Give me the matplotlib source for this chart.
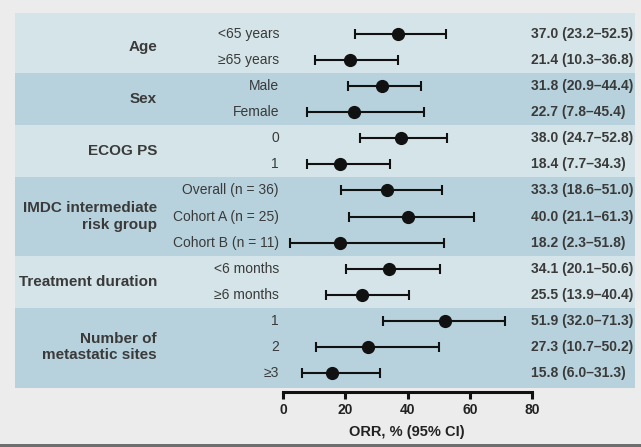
import matplotlib.pyplot as plt
from matplotlib.patches import Rectangle
import matplotlib.transforms as mtransforms

plt.rcParams["font.family"] = ["Liberation Sans", "DejaVu Sans"]

# Data.
groups = ["Age", "Sex", "ECOG PS", "IMDC intermediate\nrisk group",
          "Treatment duration", "Number of\nmetastatic sites"]
groupSizes = [2, 2, 2, 3, 2, 3]
rowLabels = ["<65 years", "≥65 years", "Male", "Female", "0", "1",
             "Overall (n = 36)", "Cohort A (n = 25)", "Cohort B (n = 11)",
             "<6 months", "≥6 months", "1", "2", "≥3"]
orr = [37.0, 21.4, 31.8, 22.7, 38.0, 18.4, 33.3, 40.0, 18.2, 34.1, 25.5, 51.9, 27.3, 15.8]
ciLow = [23.2, 10.3, 20.9, 7.8, 24.7, 7.7, 18.6, 21.1, 2.3, 20.1, 13.9, 32.0, 10.7, 6.0]
ciHigh = [52.5, 36.8, 44.4, 45.4, 52.8, 34.3, 51.0, 61.3, 51.8, 50.6, 40.4, 71.3, 50.2, 31.3]
xTicks = [0, 20, 40, 60, 80]

textColor = "#3a3a3a"
lightBand = "#d5e4e8"
darkBand = "#b7d2dc"

W, H = 641, 447
fig = plt.figure(figsize=(W / 100, H / 100), dpi=100)
fig.patch.set_facecolor("#ececec")
# Dark strip along the bottom edge of the slide.
fig.patches.append(Rectangle((0, 0), 1, 3 / H, transform=fig.transFigure, facecolor="#6e6e6e", edgecolor="none"))

# Axes covers the coloured panel; x range chosen so 0..80 maps to the plot column.
left, right, top, bottom = 15, 635, 13, 388
ax = fig.add_axes([left / W, 1 - bottom / H, (right - left) / W, (bottom - top) / H])
pxPerUnit = (532 - 283) / 80.0
ax.set_xlim(-(283 - left) / pxPerUnit, 80 + (right - 532) / pxPerUnit)
ax.set_ylim(13.57, -0.8)
ax.set_facecolor("none")

# Alternating bands per group.
bandTrans = mtransforms.blended_transform_factory(ax.transAxes, ax.transData)
start = 0
bandEdges = []
for k, size in enumerate(groupSizes):
  y0 = -0.8 if k == 0 else start - 0.5
  y1 = 13.57 if k == len(groupSizes) - 1 else start + size - 0.5
  ax.add_patch(Rectangle((0, y0), 1, y1 - y0, transform=bandTrans,
                         facecolor=lightBand if k % 2 == 0 else darkBand, edgecolor="none", zorder=0))
  bandEdges.append((start, size))
  start += size

trans = mtransforms.blended_transform_factory(fig.transFigure, ax.transData)
for name, (s, size) in zip(groups, bandEdges):
  ax.text(157 / W, s + (size - 1) / 2.0, name, transform=trans, ha="right", va="center",
          fontsize=11, fontweight="bold", color=textColor, linespacing=1.25)

rows = list(range(len(rowLabels)))
for i in rows:
  ax.text(279 / W, i, rowLabels[i], transform=trans, ha="right", va="center", fontsize=10, color=textColor)
  ax.text(531 / W, i, f"{orr[i]:.1f} ({ciLow[i]:.1f}–{ciHigh[i]:.1f})", transform=trans,
          ha="left", va="center", fontsize=10, fontweight="bold", color=textColor)

errLow = [o - l for o, l in zip(orr, ciLow)]
errHigh = [h - o for o, h in zip(orr, ciHigh)]
ax.errorbar(orr, rows, xerr=[errLow, errHigh], fmt="o", color="#111111", ms=8.5,
            elinewidth=1.5, capsize=3.5, capthick=1.5, zorder=3)

# Axis styling.
for side in ["top", "right", "left"]:
  ax.spines[side].set_visible(False)
ax.spines["bottom"].set_bounds(0, 80)
ax.spines["bottom"].set_position(("outward", 3))
ax.spines["bottom"].set_linewidth(2.2)
ax.spines["bottom"].set_color("#111111")
ax.set_yticks([])
ax.set_xticks(xTicks)
ax.tick_params(axis="x", direction="out", length=5, width=2.2, color="#111111", pad=2.5)
for lbl in ax.get_xticklabels():
  lbl.set_fontweight("bold")
  lbl.set_fontsize(10)
  lbl.set_color("#222222")
fig.text(407 / W, 1 - 432 / H, "ORR, % (95% CI)", ha="center", va="center",
         fontsize=10.5, fontweight="bold", color="#222222")

plt.savefig("out.png", dpi=100, facecolor=fig.get_facecolor())
plt.close()
